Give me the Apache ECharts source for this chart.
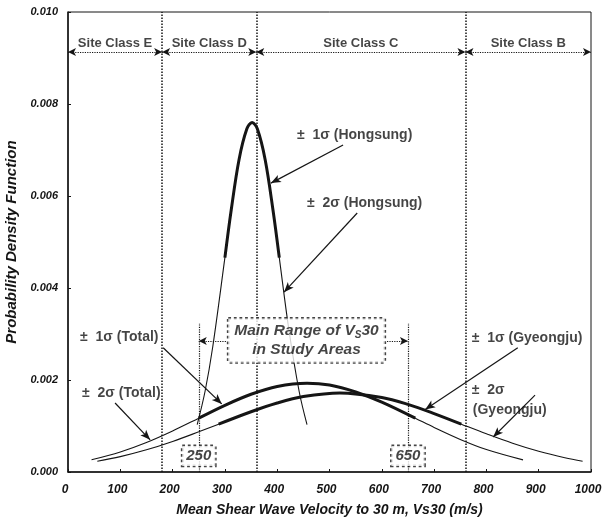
<!DOCTYPE html>
<html>
<head>
<meta charset="utf-8">
<script src="https://cdn.jsdelivr.net/npm/echarts@6/dist/echarts.min.js"></script>
<style>
  html, body { margin: 0; padding: 0; background: #fff; }
  #chart { width: 603px; height: 526px; }
</style>
</head>
<body>
<div id="chart"></div>
<script>
// Probability density of Vs30 (m/s) for each study area
const hongsungVs  = [247, 262, 277, 300, 312, 327, 342, 352, 362, 377, 392, 404, 422, 442, 457];
const hongsungPdf = [0.00103, 0.00175, 0.00274, 0.00466, 0.00569, 0.00679, 0.00746, 0.0076,
                     0.00746, 0.00679, 0.00569, 0.00466, 0.00312, 0.00175, 0.00103];
const hongsung1Sigma = [300, 404];

const totalVs  = [45, 100, 150, 200, 250, 300, 350, 400, 457, 500, 550, 600, 664, 700, 750, 800, 870];
const totalPdf = [0.000266, 0.000436, 0.000642, 0.000893, 0.00117, 0.00145, 0.00169, 0.00186, 0.00193,
                  0.00189, 0.00174, 0.00152, 0.00117, 0.000969, 0.000709, 0.000489, 0.000264];
const total1Sigma = [250, 664];

const gyeongjuVs  = [56, 100, 150, 200, 250, 288, 350, 400, 450, 520, 600, 650, 700, 752, 800, 850, 900, 950, 984];
const gyeongjuPdf = [0.000233, 0.000334, 0.000482, 0.000664, 0.000874, 0.00104, 0.00131, 0.0015, 0.00164,
                     0.00172, 0.00162, 0.00147, 0.00127, 0.00104, 0.00083, 0.000625, 0.00045, 0.000309, 0.000233];
const gyeongju1Sigma = [288, 752];

// Site class boundaries (m/s)
const classBounds = [0, 180, 360, 760, 1000];
const classNames  = ['Site Class E', 'Site Class D', 'Site Class C', 'Site Class B'];

// Main range of Vs30 in the study areas
const studyRange = [250, 650];

// Axis ticks
const xTicks = [0, 100, 200, 300, 400, 500, 600, 700, 800, 900, 1000];
const yTicks = [0.000, 0.002, 0.004, 0.006, 0.008, 0.010];

// Curve labels: text, anchor (left edge, middle) and arrow [from, to]
const notes = [
  { text: '±  1σ (Hongsung)', at: [438, 0.00733], arrow: [[526, 0.00711], [388, 0.00628]] },
  { text: '±  2σ (Hongsung)', at: [457, 0.00585], arrow: [[553, 0.00563], [413, 0.00391]] },
  { text: '±  1σ (Total)',    at: [23, 0.00293],  arrow: [[182, 0.00270], [294, 0.00148]] },
  { text: '±  2σ (Total)',    at: [27, 0.00172],  arrow: [[90, 0.00150],  [157, 0.00070]] },
  { text: '±  1σ (Gyeongju)', at: [772, 0.00291], arrow: [[860, 0.00270], [683, 0.00136]] },
  { text: '±  2σ',            at: [772, 0.00178], arrow: null },
  { text: '(Gyeongju)',       at: [774, 0.00135], arrow: [[893, 0.00167], [813, 0.00076]] }
];

const INK = '#151515';
const FONT = '"Liberation Sans", Arial, sans-serif';

function pairs(xs, ys) { return xs.map((x, i) => [x, ys[i]]); }
function within(xs, ys, r) { return pairs(xs, ys).filter(p => p[0] >= r[0] && p[0] <= r[1]); }

function curve(name, data, width) {
  return {
    name: name, type: 'line', data: data, smooth: 0.35, showSymbol: false, symbol: 'none',
    lineStyle: { color: INK, width: width }, silent: true, z: width > 2 ? 4 : 3
  };
}

const dotted = { color: INK, type: 'dotted', width: 1.5 };

// vertical site class boundaries
const boundaryLines = classBounds.slice(1, -1).map(b => [{ coord: [b, 0] }, { coord: [b, yTicks[yTicks.length - 1]] }]);
// study range limits
const rangeLines = studyRange.map(b => [{ coord: [b, 0] }, { coord: [b, 0.00324] }]);
// class span arrows along the top
const classArrows = classNames.map((n, i) => [{ coord: [classBounds[i], 0.00913] }, { coord: [classBounds[i + 1], 0.00913] }]);
// arrows from the range box to the range limits
const rangeArrows = [
  [{ coord: [302, 0.00285] }, { coord: [studyRange[0], 0.00285] }],
  [{ coord: [610, 0.00285] }, { coord: [studyRange[1], 0.00285] }]
];
const noteArrows = notes.filter(n => n.arrow).map(n => [{ coord: n.arrow[0] }, { coord: n.arrow[1] }]);

function helper(markLine) {
  return { type: 'line', data: [], silent: true, markLine: Object.assign({ silent: true, animation: false, label: { show: false } }, markLine) };
}

const labelBase = { show: true, color: INK, fontFamily: FONT };

const textPoints = [];
classNames.forEach((n, i) => {
  textPoints.push({
    value: [(classBounds[i] + classBounds[i + 1]) / 2, 0.00932],
    label: Object.assign({}, labelBase, { formatter: n, position: 'inside', fontSize: 13, fontWeight: 'bold' })
  });
});
notes.forEach(n => {
  textPoints.push({
    value: n.at,
    label: Object.assign({}, labelBase, { formatter: n.text, position: 'right', distance: 0, fontSize: 14, fontWeight: 'bold' })
  });
});
// boxed labels
textPoints.push({
  value: [456, 0.00286],
  label: Object.assign({}, labelBase, {
    position: 'inside',
    formatter: '{b|Main Range of V}{s|S}{b|30}\n{b|in Study Areas}',
    borderType: 'dotted', borderColor: INK, borderWidth: 1.4, padding: [3, 6, 3, 6], backgroundColor: '#fff',
    rich: {
      b: { fontFamily: FONT, fontSize: 15.5, fontWeight: 'bold', fontStyle: 'italic', color: INK, lineHeight: 19, verticalAlign: 'middle' },
      s: { fontFamily: FONT, fontSize: 10, fontWeight: 'bold', fontStyle: 'italic', color: INK, lineHeight: 10, verticalAlign: 'bottom' }
    }
  })
});
studyRange.forEach(v => {
  textPoints.push({
    value: [v, 0.00035],
    label: Object.assign({}, labelBase, {
      position: 'inside', formatter: String(v), fontSize: 15, fontWeight: 'bold', fontStyle: 'italic',
      borderType: 'dotted', borderColor: INK, borderWidth: 1.4, padding: [3, 4, 2, 4], backgroundColor: '#fff'
    })
  });
});

const chart = echarts.init(document.getElementById('chart'), null, { renderer: 'canvas' });

chart.setOption({
  animation: false,
  backgroundColor: '#fff',
  grid: { left: 68, right: 12, top: 12, bottom: 54, outerBoundsMode: 'none', containLabel: false,
          show: true, borderColor: INK, borderWidth: 1, backgroundColor: 'transparent' },
  xAxis: {
    type: 'value', min: xTicks[0], max: xTicks[xTicks.length - 1], interval: xTicks[1] - xTicks[0],
    name: 'Mean Shear Wave Velocity to 30 m, Vs30 (m/s)', nameLocation: 'middle', nameGap: 31,
    nameTextStyle: { fontFamily: FONT, fontSize: 14, fontWeight: 'bold', fontStyle: 'italic', color: INK },
    axisLine: { show: true, lineStyle: { color: INK, width: 1.5 } },
    axisTick: { show: true, inside: true, length: 3, lineStyle: { color: INK } },
    axisLabel: { fontFamily: FONT, fontSize: 12, fontWeight: 'bold', fontStyle: 'italic', color: INK, margin: 12,
                 padding: [0, 6, 0, 0], formatter: v => String(v) },
    splitLine: { show: false }
  },
  yAxis: {
    type: 'value', min: yTicks[0], max: yTicks[yTicks.length - 1], interval: yTicks[1] - yTicks[0],
    name: 'Probability Density Function', nameLocation: 'middle', nameGap: 45,
    nameTextStyle: { fontFamily: FONT, fontSize: 15, fontWeight: 'bold', fontStyle: 'italic', color: INK },
    axisLine: { show: true, lineStyle: { color: INK, width: 1.5 } },
    axisTick: { show: true, inside: true, length: 3, lineStyle: { color: INK } },
    axisLabel: { fontFamily: FONT, fontSize: 11, fontWeight: 'bold', fontStyle: 'italic', color: INK, margin: 10,
                 formatter: v => v.toFixed(3) },
    splitLine: { show: false }
  },
  series: [
    curve('±2σ (Hongsung)', pairs(hongsungVs, hongsungPdf), 1.1),
    curve('±1σ (Hongsung)', within(hongsungVs, hongsungPdf, hongsung1Sigma), 3),
    curve('±2σ (Total)', pairs(totalVs, totalPdf), 1.1),
    curve('±1σ (Total)', within(totalVs, totalPdf, total1Sigma), 3),
    curve('±2σ (Gyeongju)', pairs(gyeongjuVs, gyeongjuPdf), 1.1),
    curve('±1σ (Gyeongju)', within(gyeongjuVs, gyeongjuPdf, gyeongju1Sigma), 3),
    helper({ symbol: ['none', 'none'], lineStyle: dotted, data: boundaryLines }),
    helper({ symbol: ['none', 'none'], lineStyle: Object.assign({}, dotted, { width: 1.2 }), data: rangeLines }),
    helper({ symbol: ['arrow', 'arrow'], symbolSize: [6, 8], lineStyle: Object.assign({}, dotted, { width: 1.2 }), data: classArrows }),
    helper({ symbol: ['none', 'arrow'], symbolSize: [6, 8], lineStyle: Object.assign({}, dotted, { width: 1.2 }), data: rangeArrows }),
    helper({ symbol: ['none', 'arrow'], symbolSize: [6, 10], lineStyle: { color: INK, type: 'solid', width: 1.2 }, data: noteArrows }),
    {
      type: 'scatter', symbolSize: 0, silent: true, z: 6, data: textPoints,
      itemStyle: { color: 'transparent' }
    }
  ]
});
</script>
</body>
</html>
